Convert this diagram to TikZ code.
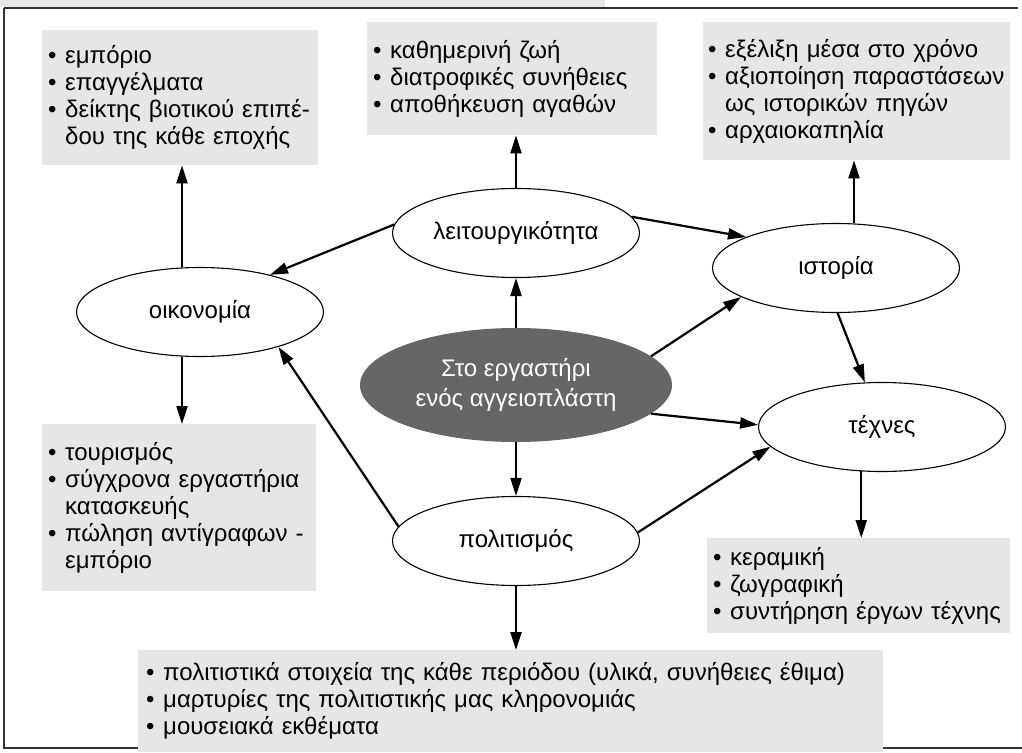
\documentclass[tikz,border=0pt]{standalone}
\usepackage{fontspec}
\setmainfont{Liberation Sans}
\usetikzlibrary{shapes.geometric,arrows.meta}
\definecolor{boxgray}{HTML}{E6E6E6}
\definecolor{centergray}{HTML}{666666}
\definecolor{framegray}{HTML}{333333}
\newcommand\bul{\makebox[17pt][l]{\textbullet}}
\newcommand\ind{\hspace*{17pt}}
\begin{document}
\begin{tikzpicture}[x=1pt,y=-1pt,
  every node/.style={font=\fontsize{24}{27}\selectfont},
  oval/.style={ellipse,draw,line width=1.1pt,fill=white,inner sep=0pt,minimum width=247pt,minimum height=89pt},
  core/.style={ellipse,fill=centergray,text=white,inner sep=0pt,minimum width=312pt,minimum height=114pt,align=center},
  infobox/.style={fill=boxgray,anchor=north west,align=left,inner xsep=6pt,inner ysep=0pt},
  arr/.style={line width=2.2pt,-{Triangle[length=18pt,width=11pt]}},
  frame/.style={draw=framegray,line width=1.5pt}]
\useasboundingbox (0,0) rectangle (1022,752);
% top bar and frame
\fill[boxgray] (0,0) rectangle (605,7);
\draw[frame] (4,8) -- (1018,8);
\draw[frame] (4,8) -- (4,748) -- (1022,748);
% info boxes
\node[infobox,text width=264pt,minimum height=135pt] (boxA) at (42,30)
  {\bul εμπόριο\\\bul επαγγέλματα\\\bul δείκτης βιοτικού επιπέ-\\\ind δου της κάθε εποχής};
\node[infobox,text width=278pt,minimum height=113pt] (boxB) at (367,22)
  {\bul καθημερινή ζωή\\\bul διατροφικές συνήθειες\\\bul αποθήκευση αγαθών};
\node[infobox,text width=297pt,minimum height=138pt,inner xsep=5pt] (boxC) at (703,22)
  {\bul εξέλιξη μέσα στο χρόνο\\\mbox{\bul αξιοποίηση παραστάσεων}\\\ind ως ιστορικών πηγών\\\bul αρχαιοκαπηλία};
\node[infobox,text width=262pt,minimum height=167pt] (boxD) at (42,424)
  {\bul τουρισμός\\\bul σύγχρονα εργαστήρια\\\ind κατασκευής\\\bul πώληση αντίγραφων -\\\ind εμπόριο};
\node[infobox,text width=291pt,minimum height=95pt] (boxE) at (707,538)
  {\bul κεραμική\\\bul ζωγραφική\\\bul συντήρηση έργων τέχνης};
\node[infobox,text width=729pt,minimum height=102pt,inner xsep=8pt] (boxF) at (138,650)
  {\bul πολιτιστικά στοιχεία της κάθε περιόδου (υλικά, συνήθειες έθιμα)\\\bul μαρτυρίες της πολιτιστικής μας κληρονομιάς\\\bul μουσειακά εκθέματα};
% ellipses
\node[oval] (leit) at (516,233) {λειτουργικότητα};
\node[oval] (econ) at (200,312) {οικονομία};
\node[oval] (hist) at (836,268) {ιστορία};
\node[oval] (tech) at (882,427) {τέχνες};
\node[oval] (pol) at (516,541) {πολιτισμός};
\node[core] (cen) at (516,385) {Στο εργαστήρι\\[3pt]ενός αγγειοπλάστη};
% connectors
\draw[arr] (leit.north) -- (leit.north |- boxB.south);
\draw[arr] (cen.north) -- (leit.south);
\draw[arr] (leit.176) -- (econ.28);
\draw[arr] (econ.112) -- (econ.112 |- boxA.south);
\draw[arr] (econ.248) -- (econ.248 |- boxD.north);
\draw[arr] (pol.173) -- (econ.336);
\draw[arr] (cen.south) -- (pol.north);
\draw[arr] (pol.south) -- (pol.south |- boxF.north);
\draw[arr] (pol.4) -- (tech.190);
\draw[arr] (cen.348) -- (tech.179);
\draw[arr] (cen.12) -- (hist.197);
\draw[arr] (leit.8) -- (hist.161);
\draw[arr] (hist.272) -- (tech.111);
\draw[arr] (hist.68) -- (hist.68 |- boxC.south);
\draw[arr] (tech.245) -- (tech.245 |- boxE.north);
\end{tikzpicture}
\end{document}
